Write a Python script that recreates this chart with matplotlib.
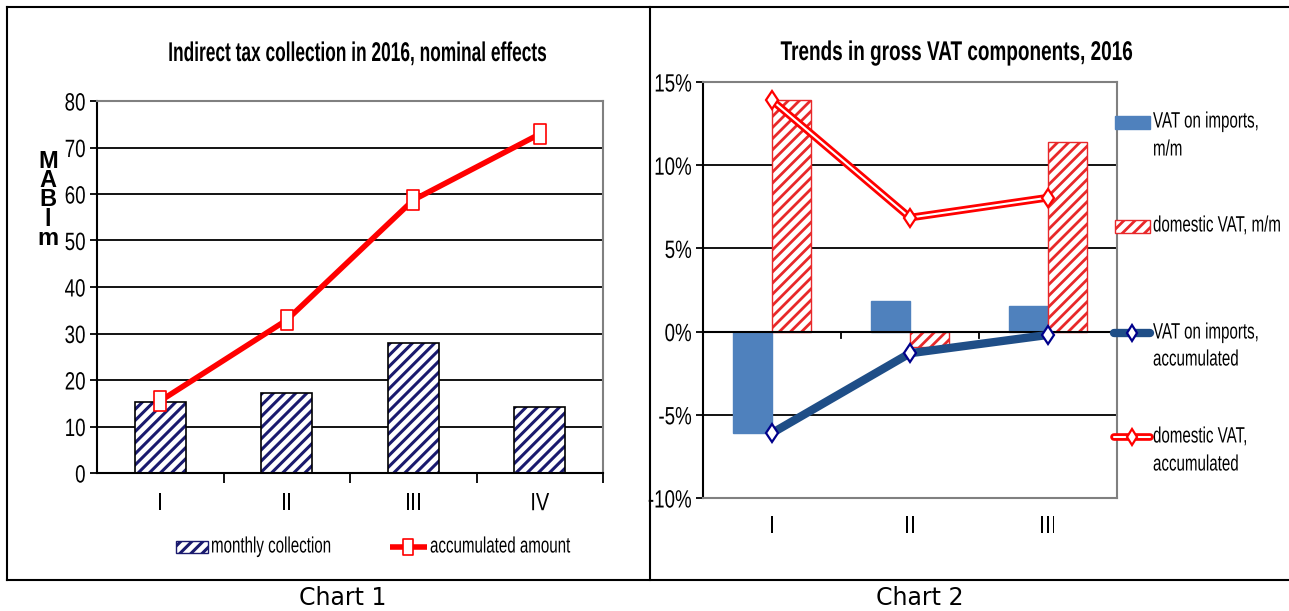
import numpy as np
import matplotlib.pyplot as plt
import matplotlib.patheffects as pe
from matplotlib.lines import Line2D
from matplotlib.patches import Rectangle
from matplotlib.path import Path
from matplotlib.transforms import Affine2D

plt.rcParams['font.family'] = ['Liberation Sans', 'DejaVu Sans']

# grafico 1: recaudacion de impuestos indirectos
quarters1 = ['I', 'II', 'III', 'IV']
monthly = [15.3, 17.2, 28.0, 14.2]
accumulated = [15.5, 32.9, 58.7, 72.9]

# grafico 2: componentes del IVA bruto
quarters2 = ['I', 'II', 'III']
vat_imp_mm = [-6.1, 1.85, 1.55]
vat_dom_mm = [13.9, -0.9, 11.4]
vat_imp_acc = [-6.1, -1.3, -0.2]
vat_dom_acc = [13.9, 6.85, 8.05]

W, H = 1289, 611
NAVY = '#1a1a6e'
BLUE = '#4f81bd'
DARKBLUE = '#1f4e87'
HRED = '#e8282a'

# marcador rectangular (mas alto que ancho)
TALL_SQ = Path([(-0.33, -0.5), (0.33, -0.5), (0.33, 0.5), (-0.33, 0.5), (-0.33, -0.5)],
               closed=True)


class Condense(pe.AbstractPathEffect):
    """Estrecha el texto en horizontal (tipo Arial Narrow)."""

    def __init__(self, sx=0.72, anchor='center'):
        super().__init__()
        self.sx = sx
        self.anchor = anchor

    def draw_path(self, renderer, gc, tpath, affine, rgbFace=None):
        v = tpath.vertices
        cx = 0.0
        if len(v):
            if self.anchor == 'right':
                cx = v[:, 0].max()
            elif self.anchor == 'center':
                cx = (v[:, 0].min() + v[:, 0].max()) / 2
        t = Affine2D().translate(-cx, 0).scale(self.sx, 1).translate(cx, 0) + affine
        renderer.draw_path(gc, tpath, t, rgbFace)


def narrow(anchor, sx=0.72):
    return [Condense(sx, anchor)]


fig = plt.figure(figsize=(W / 100, H / 100), dpi=100)

def rect(x0, y0, x1, y1):
    # pixeles -> coordenadas de figura
    return [x0 / W, 1 - y1 / H, (x1 - x0) / W, (y1 - y0) / H]

# capa en pixeles para marcos, titulos y leyendas
ov = fig.add_axes([0, 0, 1, 1], zorder=5)
ov.set_xlim(0, W)
ov.set_ylim(H, 0)
ov.axis('off')
ov.patch.set_alpha(0)

for xs, ys in [([7, W], [7, 7]), ([7, W], [580, 580]), ([7, 7], [7, 580]), ([650, 650], [7, 580])]:
    ov.plot(xs, ys, color='black', lw=1.5)
ov.text(343, 598, 'Chart 1', ha='center', va='center', fontsize=17, family='DejaVu Sans')
ov.text(920, 598, 'Chart 2', ha='center', va='center', fontsize=17, family='DejaVu Sans')

ov.text(358, 54, 'Indirect tax collection in 2016, nominal effects', ha='center',
        va='center', fontsize=19.5, fontweight='bold', path_effects=narrow('center', 0.64))
ov.text(957, 53, 'Trends in gross VAT components, 2016', ha='center', va='center',
        fontsize=19.5, fontweight='bold', path_effects=narrow('center', 0.70))
ov.text(48, 200, 'M\nA\nB\nl\nm', ha='center', va='center', fontsize=17,
        fontweight='bold', linespacing=0.8)

# ---------- Chart 1 ----------
ax1 = fig.add_axes(rect(97, 101, 603, 473))
x1 = np.arange(len(quarters1))
plt.rcParams['hatch.linewidth'] = 2.2
ax1.bar(x1, monthly, width=0.4, color='white', edgecolor=NAVY, hatch='///',
        linewidth=0, zorder=2)
ax1.bar(x1, monthly, width=0.4, color='none', edgecolor='black', linewidth=1.2, zorder=3)
ax1.plot(x1, accumulated, color='red', lw=4, marker=TALL_SQ, markersize=14,
         markerfacecolor='white', markeredgecolor='red', markeredgewidth=1.2, zorder=4)
ax1.set_xlim(-0.5, 3.5)
ax1.set_ylim(0, 80)
ax1.set_yticks(range(0, 81, 10))
ax1.yaxis.grid(True, color='black', lw=1.3)
ax1.set_axisbelow(True)
ax1.set_xticks(np.arange(0.5, 4, 1))
ax1.set_xticklabels([])
ax1.tick_params(axis='x', length=7, width=1.3, direction='out')
ax1.tick_params(axis='y', length=5, width=1.3, labelsize=18, pad=3)
for lab in ax1.get_yticklabels():
    lab.set_path_effects(narrow('right', 0.75))
for i, q in enumerate(quarters1):
    ax1.text(i, -6.5, q, ha='center', va='center', fontsize=18,
             path_effects=narrow('center', 0.8))
for s in ['top', 'right']:
    ax1.spines[s].set_color('#808080')
    ax1.spines[s].set_linewidth(1.5)
ax1.spines['left'].set_linewidth(1.5)
ax1.spines['bottom'].set_linewidth(1.5)

# leyenda del grafico 1
ov.add_patch(Rectangle((176, 541), 32, 12, facecolor='white', edgecolor=NAVY, hatch='///',
                       linewidth=1))
ov.text(211, 547, 'monthly collection', ha='left', va='center', fontsize=16,
        path_effects=narrow('left', 0.68))
ov.plot([390, 427], [547, 547], color='red', lw=4, solid_capstyle='butt')
ov.plot([408], [547], marker=TALL_SQ, markersize=11, markerfacecolor='white',
        markeredgecolor='red', markeredgewidth=1.2)
ov.text(430, 547, 'accumulated amount', ha='left', va='center', fontsize=16,
        path_effects=narrow('left', 0.68))

# ---------- Chart 2 ----------
ax2 = fig.add_axes(rect(703, 82, 1117, 498))
x2 = np.arange(len(quarters2))
bw = 0.28
plt.rcParams['hatch.linewidth'] = 2.0
ax2.bar(x2 - bw / 2, vat_imp_mm, width=bw, color=BLUE, edgecolor=BLUE, zorder=2)
ax2.bar(x2 + bw / 2, vat_dom_mm, width=bw, color='white', edgecolor=HRED,
        hatch='///', linewidth=1, zorder=2)
ax2.plot(x2, vat_imp_acc, color=DARKBLUE, lw=6, marker='d', markersize=9.5,
         markerfacecolor='white', markeredgecolor='#00008b', markeredgewidth=1.6, zorder=4)
ax2.plot(x2, vat_dom_acc, color='white', lw=1.5, zorder=4,
         path_effects=[pe.Stroke(linewidth=5.5, foreground='red'), pe.Normal()])
ax2.plot(x2, vat_dom_acc, linestyle='none', marker='d', markersize=9.5,
         markerfacecolor='white', markeredgecolor='red', markeredgewidth=1.6, zorder=5)
ax2.axhline(0, color='black', lw=1.5, zorder=3)
ax2.set_xlim(-0.5, 2.5)
ax2.set_ylim(-10, 15)
ax2.set_yticks(range(-10, 16, 5))
ax2.set_yticklabels([f'{v}%' for v in range(-10, 16, 5)])
ax2.yaxis.grid(True, color='black', lw=1.3)
ax2.set_axisbelow(True)
ax2.tick_params(axis='y', length=5, width=1.3, labelsize=18, pad=3)
for lab in ax2.get_yticklabels():
    lab.set_path_effects(narrow('right', 0.75))
ax2.set_xticks([])
for xb in [0.5, 1.5]:
    ax2.plot([xb, xb], [0, -0.4], color='black', lw=1.3, zorder=3)
for i, q in enumerate(quarters2):
    ax2.text(i, -11.7, q, ha='center', va='center', fontsize=18,
             path_effects=narrow('center', 0.8))
for s in ['top', 'right', 'bottom']:
    ax2.spines[s].set_color('#808080')
    ax2.spines[s].set_linewidth(1.5)
ax2.spines['left'].set_linewidth(1.5)

# leyenda de la derecha
ov.add_patch(Rectangle((1115, 116), 35, 13, facecolor=BLUE, edgecolor=BLUE))
ov.add_patch(Rectangle((1115, 220), 35, 13, facecolor='white', edgecolor=HRED,
                       hatch='///', linewidth=1))
ov.plot([1114, 1150], [333, 333], color=DARKBLUE, lw=6, solid_capstyle='round')
ov.plot([1132], [333], marker='d', markersize=8.5, markerfacecolor='white',
        markeredgecolor='#00008b', markeredgewidth=1.6)
ov.plot([1114, 1150], [437, 437], color='white', lw=1.5, solid_capstyle='round',
        path_effects=[pe.Stroke(linewidth=5.5, foreground='red'), pe.Normal()])
ov.plot([1132], [437], marker='d', markersize=8.5, markerfacecolor='white',
        markeredgecolor='red', markeredgewidth=1.6)
legend_text = [(122, 'VAT on imports,'), (150, 'm/m'), (226, 'domestic VAT, m/m'),
               (333, 'VAT on imports,'), (360, 'accumulated'),
               (437, 'domestic VAT,'), (465, 'accumulated')]
for yy, txt in legend_text:
    ov.text(1153, yy, txt, ha='left', va='center', fontsize=16,
            path_effects=narrow('left', 0.68))

fig.savefig('out.png', dpi=100, facecolor='white')
